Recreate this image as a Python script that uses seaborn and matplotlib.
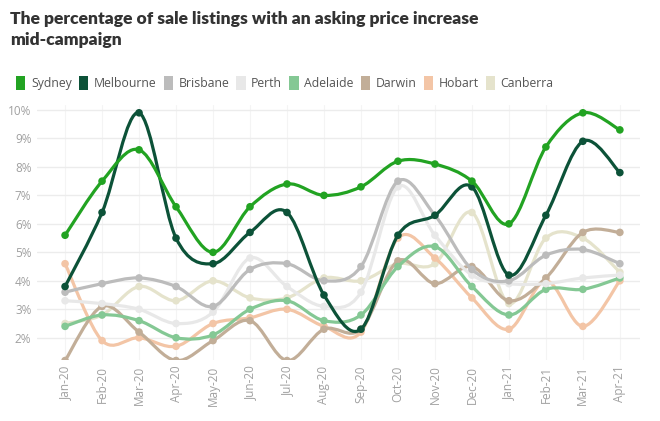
import numpy as np
import pandas as pd
import matplotlib
matplotlib.use("Agg")
import matplotlib.pyplot as plt
from matplotlib.path import Path
from matplotlib.patches import PathPatch, Patch
import seaborn as sns

months = ["Jan-20", "Feb-20", "Mar-20", "Apr-20", "May-20", "Jun-20", "Jul-20", "Aug-20",
          "Sep-20", "Oct-20", "Nov-20", "Dec-20", "Jan-21", "Feb-21", "Mar-21", "Apr-21"]

sydney = [5.6, 7.5, 8.6, 6.6, 5.0, 6.6, 7.4, 7.0, 7.3, 8.2, 8.1, 7.5, 6.0, 8.7, 9.9, 9.3]
melbourne = [3.8, 6.4, 9.9, 5.5, 4.6, 5.7, 6.4, 3.5, 2.3, 5.6, 6.3, 7.3, 4.2, 6.3, 8.9, 7.8]
brisbane = [3.6, 3.9, 4.1, 3.8, 3.1, 4.4, 4.6, 4.0, 4.5, 7.5, 6.3, 4.4, 4.0, 4.9, 5.1, 4.6]
perth = [3.3, 3.2, 3.0, 2.5, 2.9, 4.8, 3.8, 3.1, 3.6, 7.3, 5.6, 4.2, 3.9, 3.9, 4.1, 4.2]
adelaide = [2.4, 2.8, 2.6, 2.0, 2.1, 3.0, 3.3, 2.6, 2.8, 4.5, 5.2, 3.8, 2.8, 3.7, 3.7, 4.1]
darwin = [1.2, 3.1, 2.2, 1.2, 1.9, 2.6, 1.2, 2.3, 2.3, 4.7, 3.9, 4.5, 3.3, 4.1, 5.7, 5.7]
hobart = [4.6, 1.9, 2.0, 1.7, 2.5, 2.7, 3.0, 2.4, 2.2, 5.5, 4.8, 3.4, 2.3, 4.0, 2.4, 4.0]
canberra = [2.5, 2.8, 3.8, 3.3, 4.0, 3.4, 3.4, 4.1, 4.0, 4.6, 4.6, 6.4, 3.2, 5.5, 5.5, 4.3]

cities = ["Sydney", "Melbourne", "Brisbane", "Perth", "Adelaide", "Darwin", "Hobart", "Canberra"]
series = [sydney, melbourne, brisbane, perth, adelaide, darwin, hobart, canberra]
colors = ["#22a322", "#0c5238", "#bcbcbc", "#e8e8e8", "#84c894", "#c2ae98", "#f3c5a6", "#e5e3cc"]

df = pd.DataFrame({
    "month": np.tile(np.arange(len(months)), len(cities)),
    "city": np.repeat(cities, len(months)),
    "value": np.concatenate(series),
})

sns.set_theme(style="white")
plt.rcParams["font.family"] = ["Open Sans", "DejaVu Sans"]

fig = plt.figure(figsize=(6.6, 4.21), dpi=100)
ax = fig.add_axes([0.056, 0.145, 0.914, 0.606])


def spline_patch(xs, ys, color, z):
    # Catmull-Rom style smoothing drawn as cubic bezier segments
    xs = np.asarray(xs, float)
    ys = np.asarray(ys, float)
    n = len(xs)
    verts = [(xs[0], ys[0])]
    codes = [Path.MOVETO]
    t = 1 / 6
    for i in range(n - 1):
        x0, y0 = (xs[i - 1], ys[i - 1]) if i > 0 else (xs[i], ys[i])
        x3, y3 = (xs[i + 2], ys[i + 2]) if i + 2 < n else (xs[i + 1], ys[i + 1])
        c1 = (xs[i] + (xs[i + 1] - x0) * t, ys[i] + (ys[i + 1] - y0) * t)
        c2 = (xs[i + 1] - (x3 - xs[i]) * t, ys[i + 1] - (y3 - ys[i]) * t)
        verts += [c1, c2, (xs[i + 1], ys[i + 1])]
        codes += [Path.CURVE4] * 3
    ax.add_patch(PathPatch(Path(verts, codes), facecolor="none", edgecolor=color,
                           lw=2.3, zorder=z, capstyle="round", joinstyle="round"))


order = list(range(len(cities)))[::-1]
for i in order:
    sub = df[df["city"] == cities[i]]
    spline_patch(sub["month"], sub["value"], colors[i], 3 + (len(cities) - i))
    sns.scatterplot(data=sub, x="month", y="value", color=colors[i], s=30,
                    edgecolor="none", ax=ax, zorder=4 + (len(cities) - i), legend=False)

ax.set_xlim(-0.76, 15.55)
ax.set_ylim(1.22, 10.18)
ax.set_yticks(range(2, 11))
ax.set_yticklabels([f"{v}%" for v in range(2, 11)])
ax.set_xticks(range(len(months)))
ax.set_xticklabels(months, rotation=90)
ax.tick_params(axis="both", labelsize=8.5, labelcolor="#a0a0a0", length=0, pad=4)
ax.set_xlabel("")
ax.set_ylabel("")
ax.grid(axis="y", color="#ececec", lw=1)
ax.grid(axis="x", color="#f4f4f4", lw=0.8)
for s in ax.spines.values():
    s.set_visible(False)

fig.text(0.015, 0.975, "The percentage of sale listings with an asking price increase\nmid-campaign",
         ha="left", va="top", fontsize=12.6, fontweight="heavy", color="#333333",
         linespacing=1.45, family=["Lato", "DejaVu Sans"])

handles = [Patch(facecolor=c, edgecolor="none") for c in colors]
fig.legend(handles, cities, loc="center left", bbox_to_anchor=(0.008, 0.803), ncol=8,
           frameon=False, fontsize=8.8, handlelength=0.75, handleheight=1.4,
           handletextpad=0.45, columnspacing=0.6, labelcolor="#555555")

fig.savefig("out.png", dpi=100, facecolor="white")
